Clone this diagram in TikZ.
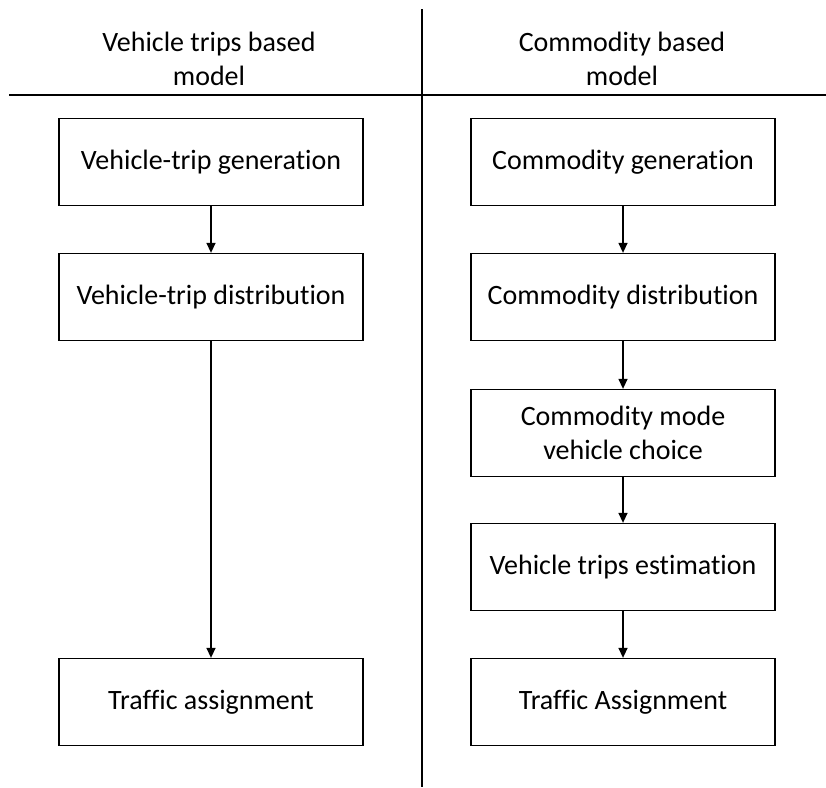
\documentclass[tikz,border=0pt]{standalone}
\usepackage{fontspec}
\setmainfont{Carlito}[Ligatures=NoCommon]
\usetikzlibrary{arrows.meta}
\begin{document}
\begin{tikzpicture}[x=1pt,y=-1pt,
  every node/.style={font=\fontsize{28}{33.6}\selectfont, align=center, inner sep=0pt},
  stagebox/.style={draw=black, line width=1.3pt, minimum width=304pt, minimum height=87pt},
  flow/.style={line width=1.4pt, -{Triangle[width=9pt,length=10pt]}},
  divider/.style={line width=2pt}]
  \useasboundingbox (0,0) rectangle (826,787);

  % column headings and dividing lines
  \node (hleft)  at (209,59) {Vehicle trips based\\model};
  \node (hright) at (622,59) {Commodity based\\model};
  \coordinate (hl0) at (9,95);
  \coordinate (hl1) at (826,95);
  \coordinate (vl0) at (422,9);
  \coordinate (vl1) at (422,787);
  \draw[divider] (hl0) -- (hl1);
  \draw[divider] (vl0) -- (vl1);

  % vehicle trips based model
  \node[stagebox] (l1) at (211,162) {Vehicle-trip generation};
  \node[stagebox] (l2) at (211,297) {Vehicle-trip distribution};
  \node[stagebox] (l3) at (211,702) {Traffic assignment};
  \draw[flow] (l1) -- (l2);
  \draw[flow] (l2) -- (l3);

  % commodity based model
  \node[stagebox] (r1) at (623,162) {Commodity generation};
  \node[stagebox] (r2) at (623,297) {Commodity distribution};
  \node[stagebox] (r3) at (623,433) {Commodity mode\\vehicle choice};
  \node[stagebox] (r4) at (623,567) {Vehicle trips estimation};
  \node[stagebox] (r5) at (623,702) {Traffic Assignment};
  \draw[flow] (r1) -- (r2);
  \draw[flow] (r2) -- (r3);
  \draw[flow] (r3) -- (r4);
  \draw[flow] (r4) -- (r5);
\end{tikzpicture}
\end{document}
